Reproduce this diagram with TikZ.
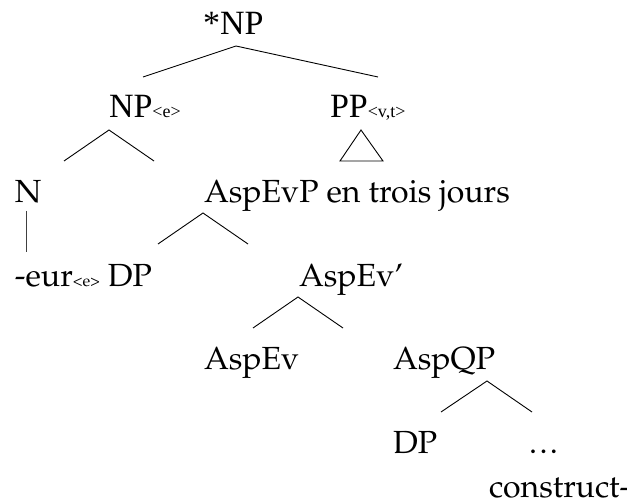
\documentclass[tikz,border=0pt]{standalone}
\usepackage[T1,TU]{fontenc}
\usepackage{fontspec}
\newfontfamily\timesf{Liberation Serif}
\newcommand\palf{\fontencoding{T1}\fontfamily{ppl}\selectfont}
\newcommand\bigsz{\fontsize{32}{36}\selectfont}
\newcommand\tsub[1]{{\timesf\fontsize{18}{20}\selectfont #1}}
\newcommand\psub[1]{{\palf\fontsize{16}{18}\selectfont #1}}
\begin{document}
\begin{tikzpicture}[x=1pt,y=-1pt,
  lbl/.style={anchor=base west,inner sep=0pt,outer sep=0pt,font=\palf\bigsz},
  tlbl/.style={anchor=base west,inner sep=0pt,outer sep=0pt,font=\timesf\fontsize{34}{38}\selectfont},
  edge/.style={line width=0.9pt,black}]
\useasboundingbox (0,0) rectangle (627,500);
% labels
\node[tlbl] (top) at (203,35) {*NP};
\node[tlbl] (np) at (109,118) {NP\tsub{<e>}};
\node[tlbl] (pp) at (330,118) {PP\tsub{<v,t>}};
\node[lbl] (n) at (15,203) {N};
\node[lbl] (aspevp) at (204,203) {AspEvP en trois jours};
\node[lbl] (eur) at (15,286) {-eur\psub{<e>} DP};
\node[lbl] (aspevbar) at (299,286) {AspEv'};
\node[lbl] (aspev) at (204,369) {AspEv};
\node[lbl] (aspqp) at (393,369) {AspQP};
\node[lbl] (dp) at (393,453) {DP};
\node[lbl] (dots) at (529,453) {.\kern2.5pt.\kern2.5pt.};
\node[lbl] (construct) at (489,497) {construct-};
% branch points
\coordinate (a1) at (236,46);  \coordinate (a1l) at (143,77);  \coordinate (a1r) at (378,77);
\coordinate (a2) at (109,130); \coordinate (a2l) at (64,161);  \coordinate (a2r) at (154,161);
\coordinate (t1) at (361,130); \coordinate (t1l) at (340,161); \coordinate (t1r) at (383,161);
\coordinate (v1) at (26,211);  \coordinate (v2) at (26,252);
\coordinate (a3) at (203,213); \coordinate (a3l) at (158,244); \coordinate (a3r) at (248,244);
\coordinate (a4) at (298,297); \coordinate (a4l) at (253,328); \coordinate (a4r) at (343,328);
\coordinate (a5) at (487,381); \coordinate (a5l) at (441,412); \coordinate (a5r) at (532,412);
% branches
\draw[edge] (a1l) -- (a1) -- (a1r);
\draw[edge] (a2l) -- (a2) -- (a2r);
\draw[edge] (t1) -- (t1l) -- (t1r) -- cycle;
\draw[edge,black!75] (v1) -- (v2);
\draw[edge] (a3l) -- (a3) -- (a3r);
\draw[edge] (a4l) -- (a4) -- (a4r);
\draw[edge] (a5l) -- (a5) -- (a5r);
\end{tikzpicture}
\end{document}
